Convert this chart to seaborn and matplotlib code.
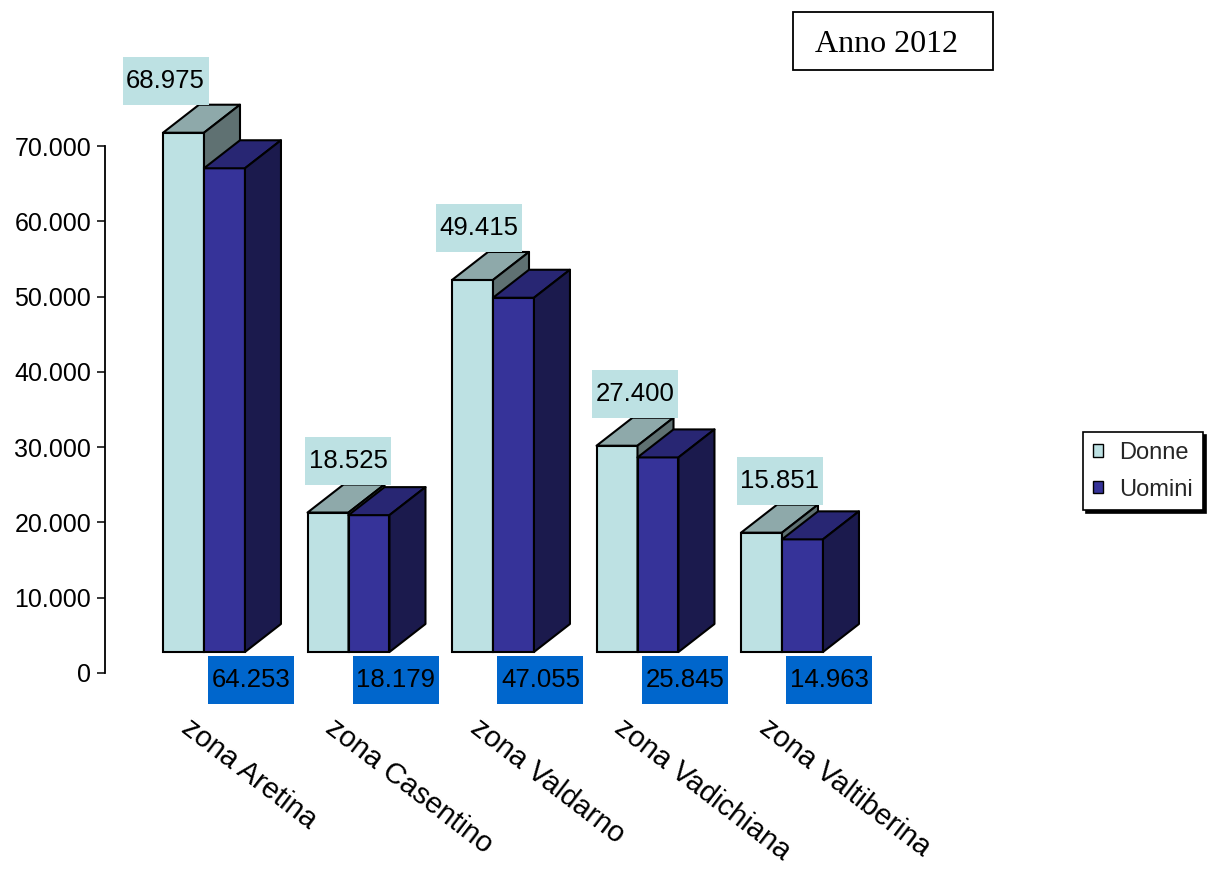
import numpy as np
import pandas as pd
import matplotlib
matplotlib.use("Agg")
import matplotlib.pyplot as plt
from matplotlib.patches import Polygon, Rectangle, Patch
from matplotlib import transforms
from matplotlib.ticker import FuncFormatter
import seaborn as sns

# ---------------- data ----------------
zone = ["zona Aretina", "zona Casentino", "zona Valdarno", "zona Vadichiana", "zona Valtiberina"]
serie = ["Donne", "Uomini"]
donne = [68975, 18525, 49415, 27400, 15851]
uomini = [64253, 18179, 47055, 25845, 14963]
y_ticks = [0, 10000, 20000, 30000, 40000, 50000, 60000, 70000]
titolo = "Anno 2012"

df = pd.DataFrame({
    "zona": zone + zone,
    "valore": donne + uomini,
    "sesso": [serie[0]] * len(zone) + [serie[1]] * len(zone),
})

# ---------------- style ----------------
W, H, DPI = 1208, 883, 100
sns.set_style("white")
plt.rcParams["font.family"] = ["Liberation Sans", "DejaVu Sans"]

front_c = {"Donne": "#BDE1E3", "Uomini": "#363399"}
top_c = {"Donne": "#8EA9AA", "Uomini": "#282673"}
side_c = {"Donne": "#5F7172", "Uomini": "#1B1A4D"}
label_bg = {"Donne": "#BDE1E3", "Uomini": "#0066CC"}

fig = plt.figure(figsize=(W / DPI, H / DPI), dpi=DPI)
ax_l, ax_r, ax_t, ax_b = 105, 869, 146, 673
ax = fig.add_axes([ax_l / W, 1 - ax_b / H, (ax_r - ax_l) / W, (ax_b - ax_t) / H])

sns.barplot(data=df, x="zona", y="valore", hue="sesso", order=zone, hue_order=serie,
            palette=[front_c[s] for s in serie], saturation=1, width=0.567, gap=0,
            edgecolor="black", linewidth=1.5, errorbar=None, legend=False, ax=ax)

cat_px = 144.5
x0lim = -(204 - ax_l) / cat_px
x1lim = (ax_r - 204) / cat_px
ax.set_xlim(x0lim, x1lim)
ax.set_ylim(y_ticks[0], y_ticks[-1])

ux = (ax_r - ax_l) / (x1lim - x0lim)          # px per x unit
uy = (ax_b - ax_t) / (y_ticks[-1] - y_ticks[0])  # px per y unit

base = 21 / uy        # floor offset of the 3D bars
ddx = 36 / ux         # depth offset
ddy = 28 / uy

donne_dx_px = [-18, 20, 6, 18, 18]

for k, (s, cont) in enumerate(zip(serie, ax.containers)):
    z = 2 + k
    for i, p in enumerate(cont.patches):
        p.set_y(base)
        p.set_zorder(z)
        p.set_clip_on(False)
        x0 = p.get_x()
        w = p.get_width()
        h = p.get_height()
        top = base + h
        top_face = Polygon([(x0, top), (x0 + w, top), (x0 + w + ddx, top + ddy), (x0 + ddx, top + ddy)],
                           closed=True, facecolor=top_c[s], edgecolor="black", linewidth=1.5,
                           zorder=z, clip_on=False, joinstyle="round")
        side_face = Polygon([(x0 + w, base), (x0 + w + ddx, base + ddy), (x0 + w + ddx, top + ddy), (x0 + w, top)],
                            closed=True, facecolor=side_c[s], edgecolor="black", linewidth=1.5,
                            zorder=z, clip_on=False, joinstyle="round")
        ax.add_patch(top_face)
        ax.add_patch(side_face)

        # value labels
        val = f"{int(round(h)):,}".replace(",", ".")
        if s == "Donne":
            cx = x0 + w / 2 + donne_dx_px[i] / ux
            tr = transforms.ScaledTranslation(cx, top + ddy, ax.transData)
            rect = Rectangle((-43, 0), 86, 48, transform=tr, facecolor=label_bg[s],
                             edgecolor="none", zorder=5, clip_on=False)
            ax.add_patch(rect)
            ax.text(0, 24, val, transform=tr, ha="center", va="center", fontsize=18.5,
                    color="black", zorder=6, clip_on=False)
        else:
            cx = x0 + w / 2 + 27 / ux
            tr = transforms.ScaledTranslation(cx, base, ax.transData)
            rect = Rectangle((-43, -52), 86, 48, transform=tr, facecolor=label_bg[s],
                             edgecolor="none", zorder=5, clip_on=False)
            ax.add_patch(rect)
            ax.text(0, -28, val, transform=tr, ha="center", va="center", fontsize=18.5,
                    color="black", zorder=6, clip_on=False)

# axes styling
for sp in ["top", "right", "bottom"]:
    ax.spines[sp].set_visible(False)
ax.spines["left"].set_linewidth(1.3)
ax.spines["left"].set_color("black")
ax.set_xlabel("")
ax.set_ylabel("")
ax.set_yticks(y_ticks)
ax.yaxis.set_major_formatter(FuncFormatter(lambda v, _: f"{int(v):,}".replace(",", ".")))
ax.tick_params(axis="y", left=True, length=6, width=1.1, pad=4, labelsize=18,
               direction="out", color="black", labelcolor="black")
ax.tick_params(axis="x", bottom=False, length=0, pad=29, labelsize=21, labelcolor="black")
ax.grid(False)

shift = transforms.ScaledTranslation(-11 / DPI, 0, fig.dpi_scale_trans)
for lbl in ax.get_xticklabels():
    lbl.set_rotation(-37.5)
    lbl.set_ha("left")
    lbl.set_va("top")
    lbl.set_rotation_mode("anchor")
    lbl.set_transform(lbl.get_transform() + shift)

# legend
handles = [Patch(facecolor=front_c[s], edgecolor="black", linewidth=1.0) for s in serie]
leg = fig.legend(handles, serie, loc="upper left", bbox_to_anchor=(1083 / W, 1 - 432 / H),
                 frameon=True, fancybox=False, shadow={"color": "black", "alpha": 1},
                 edgecolor="black", framealpha=1, fontsize=17,
                 handlelength=0.42, handleheight=0.42, handletextpad=0.7,
                 borderpad=0.42, labelspacing=0.62, borderaxespad=0)
leg.get_frame().set_linewidth(1.2)

# title box
fig.add_artist(Rectangle((793 / W, 1 - 70 / H), 200 / W, 58 / H, transform=fig.transFigure,
                         fill=False, edgecolor="black", linewidth=1.3))
fig.text(815 / W, 1 - 52 / H, titolo, family=["Liberation Serif", "DejaVu Serif"],
         fontsize=23, ha="left", va="baseline", color="black")

fig.savefig("out.png", dpi=DPI, facecolor="white")
